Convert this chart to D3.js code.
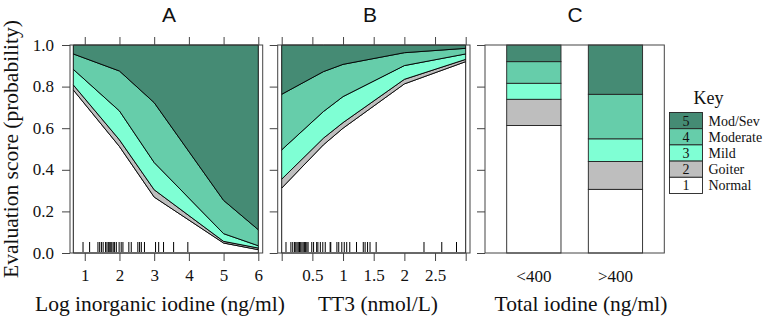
<!DOCTYPE html>
<html>
<head>
<meta charset="utf-8">
<script src="https://cdn.jsdelivr.net/npm/d3@7/dist/d3.min.js"></script>
<style>
  body { margin: 0; background: #fff; }
  svg { display: block; }
</style>
</head>
<body>
<svg id="chart" width="767" height="318"></svg>
<script>
// ---- data ----
const categories = ['Normal', 'Goiter', 'Mild', 'Moderate', 'Mod/Sev'];
const categoryColors = ['#ffffff', '#bebebe', '#7fffd4', '#66cdaa', '#458b74'];

// Panel A: cumulative P(score <= k) vs log inorganic iodine
const iodineX = [0.67, 2, 3, 5, 6];
const iodineCumNormal = [0.784, 0.512, 0.269, 0.048, 0.016];
const iodineCumGoiter = [0.808, 0.544, 0.304, 0.056, 0.024];
const iodineCumMild = [0.883, 0.683, 0.435, 0.093, 0.035];
const iodineCumModerate = [0.957, 0.875, 0.723, 0.253, 0.112];
const iodineRug = [0.95, 1.14, 1.38, 1.43, 1.48, 1.53, 1.60, 1.64, 1.68, 1.72, 1.75, 1.78,
  1.82, 1.86, 1.91, 1.99, 2.05, 2.10, 2.27, 2.34, 2.53, 2.58, 2.63, 2.72, 3.04, 3.13, 3.27,
  3.56, 3.97];
const iodineTicks = [1, 2, 3, 4, 5, 6];

// Panel B: cumulative P(score <= k) vs TT3
const tt3X = [0, 0.68, 1, 2, 3];
const tt3CumNormal = [0.312, 0.52, 0.60, 0.813, 0.92];
const tt3CumGoiter = [0.355, 0.552, 0.627, 0.835, 0.931];
const tt3CumMild = [0.496, 0.680, 0.752, 0.901, 0.957];
const tt3CumModerate = [0.763, 0.872, 0.907, 0.963, 0.984];
const tt3Rug = [0.07, 0.15, 0.18, 0.21, 0.23, 0.25, 0.27, 0.29, 0.31, 0.33, 0.35, 0.37, 0.39,
  0.41, 0.43, 0.49, 0.52, 0.57, 0.59, 0.63, 0.67, 0.71, 0.79, 0.80, 0.90, 0.93, 0.98, 1.02,
  1.06, 1.11, 1.22, 1.33, 1.36, 1.40, 1.44, 1.54, 2.32, 2.61, 2.85];
const tt3Ticks = [0, 0.5, 1, 1.5, 2, 2.5, 3];
const tt3TickLabels = ['', '0.5', '1', '1.5', '2', '2.5', ''];

// Panel C: category probabilities by total iodine group
const totalGroups = ['<400', '>400'];
const totalLow = [0.613, 0.126, 0.077, 0.104, 0.080];
const totalHigh = [0.306, 0.134, 0.109, 0.214, 0.237];

const yTicks = [0, 0.2, 0.4, 0.6, 0.8, 1.0];

// ---- layout ----
const Y_TOP = 45, Y_BOTTOM = 253;
const FRAME = '#444';
const SERIF = 'Liberation Serif';
const SANS = 'Liberation Sans';
const svg = d3.select('#chart');
const y = d3.scaleLinear().domain([0, 1]).range([Y_BOTTOM, Y_TOP]);

const panels = {
  A: { frame: [70, 262.7], plot: [73.3, 258.3], title: 169, xTitle: 160 },
  B: { frame: [277.7, 470], plot: [281.7, 465.7], title: 370, xTitle: 378 },
  C: { frame: [485, 664.3], title: 575, xTitle: 581 }
};

function serifText(sel, size) {
  return sel.attr('font-family', SERIF).attr('font-size', size).attr('fill', '#111');
}

function styleAxis(g) {
  g.attr('font-family', SERIF).attr('font-size', 17);
  g.select('.domain').remove();
  g.selectAll('.tick line').attr('stroke', FRAME);
  serifText(g.selectAll('.tick text'), 17);
}

function drawYAxis(p, withLabels) {
  const g = svg.append('g')
    .attr('transform', `translate(${p.frame[0]},0)`)
    .call(d3.axisLeft(y).tickValues(yTicks).tickSize(8).tickPadding(8)
      .tickFormat(withLabels ? d3.format('.1f') : () => ''));
  styleAxis(g);
  g.selectAll('.tick text').attr('dy', '0.3em');
}

function drawFrame(p) {
  svg.append('rect')
    .attr('x', p.frame[0])
    .attr('y', Y_TOP)
    .attr('width', p.frame[1] - p.frame[0])
    .attr('height', Y_BOTTOM - Y_TOP)
    .attr('fill', 'none')
    .attr('stroke', FRAME)
    .attr('stroke-width', 1);
}

function drawTitles(p, letter, xLabel) {
  svg.append('text')
    .attr('x', p.title).attr('y', 21.5)
    .attr('text-anchor', 'middle')
    .attr('font-family', SANS)
    .attr('font-size', 21)
    .attr('fill', '#111')
    .text(letter);

  serifText(svg.append('text'), 21.5)
    .attr('x', p.xTitle).attr('y', 311)
    .attr('text-anchor', 'middle')
    .text(xLabel);
}

function drawCurvePanel(p, xs, cums, rug, ticks, tickLabels) {
  const x = d3.scaleLinear().domain(d3.extent(xs)).range(p.plot);
  const bounds = [xs.map(() => 0), ...cums, xs.map(() => 1)];

  const area = d3.area()
    .x(d => x(d.x))
    .y0(d => y(d.lo))
    .y1(d => y(d.hi));

  const bands = categories.map((c, k) =>
    xs.map((v, i) => ({ x: v, lo: bounds[k][i], hi: bounds[k + 1][i] })));

  svg.append('g').selectAll('path')
    .data(bands)
    .join('path')
    .attr('d', d => area(d))
    .attr('fill', (d, k) => categoryColors[k])
    .attr('stroke', '#000')
    .attr('stroke-width', 0.9)
    .attr('stroke-linejoin', 'round');

  svg.append('g').selectAll('line')
    .data(rug)
    .join('line')
    .attr('x1', d => x(d)).attr('x2', d => x(d))
    .attr('y1', Y_BOTTOM - 11).attr('y2', Y_BOTTOM - 1)
    .attr('stroke', '#000')
    .attr('stroke-width', 1);

  drawFrame(p);

  const fmt = (d, i) => tickLabels ? tickLabels[i] : d3.format('d')(d);
  const bottom = svg.append('g')
    .attr('transform', `translate(0,${Y_BOTTOM})`)
    .call(d3.axisBottom(x).tickValues(ticks).tickSize(8).tickPadding(8).tickFormat(fmt));
  styleAxis(bottom);

  const top = svg.append('g')
    .attr('transform', `translate(0,${Y_TOP})`)
    .call(d3.axisTop(x).tickValues(ticks).tickSize(8).tickFormat(() => ''));
  styleAxis(top);
}

function drawBarPanel(p) {
  const x = d3.scaleBand()
    .domain(totalGroups)
    .range(p.frame)
    .paddingInner(0.335)
    .paddingOuter(0.266);

  const rows = [totalLow, totalHigh].map((probs, gi) => {
    let acc = 0;
    return probs.map((v, k) => {
      const seg = { group: totalGroups[gi], k, lo: acc, hi: acc + v };
      acc += v;
      return seg;
    });
  }).flat();

  svg.append('g').selectAll('rect')
    .data(rows)
    .join('rect')
    .attr('x', d => x(d.group))
    .attr('width', x.bandwidth())
    .attr('y', d => y(Math.min(d.hi, 1)))
    .attr('height', d => y(d.lo) - y(Math.min(d.hi, 1)))
    .attr('fill', d => categoryColors[d.k])
    .attr('stroke', '#222')
    .attr('stroke-width', 0.9);

  drawFrame(p);

  const bottom = svg.append('g')
    .attr('transform', `translate(0,${Y_BOTTOM})`)
    .call(d3.axisBottom(x).tickSize(0).tickPadding(17));
  styleAxis(bottom);
}

// ---- panels ----
drawCurvePanel(panels.A, iodineX,
  [iodineCumNormal, iodineCumGoiter, iodineCumMild, iodineCumModerate],
  iodineRug, iodineTicks, null);
drawYAxis(panels.A, true);
drawTitles(panels.A, 'A', 'Log inorganic iodine (ng/ml)');

drawCurvePanel(panels.B, tt3X,
  [tt3CumNormal, tt3CumGoiter, tt3CumMild, tt3CumModerate],
  tt3Rug, tt3Ticks, tt3TickLabels);
drawYAxis(panels.B, false);
drawTitles(panels.B, 'B', 'TT3 (nmol/L)');

drawBarPanel(panels.C);
drawYAxis(panels.C, false);
drawTitles(panels.C, 'C', 'Total iodine (ng/ml)');

// y axis title
serifText(svg.append('text'), 21.5)
  .attr('transform', `translate(18,${(Y_TOP + Y_BOTTOM) / 2}) rotate(-90)`)
  .attr('text-anchor', 'middle')
  .text('Evaluation score (probability)');

// ---- legend ----
const legend = svg.append('g').attr('transform', 'translate(669.5,112.5)');
const rowH = 16.2;
const legendRows = categories.map((c, k) => ({ label: c, k })).reverse();

serifText(legend.append('text'), 18)
  .attr('x', 39).attr('y', -9)
  .attr('text-anchor', 'middle')
  .text('Key');

const item = legend.selectAll('g.item')
  .data(legendRows)
  .join('g')
  .attr('class', 'item')
  .attr('transform', (d, i) => `translate(0,${i * rowH})`);

item.append('rect')
  .attr('width', 33).attr('height', rowH)
  .attr('fill', d => categoryColors[d.k])
  .attr('stroke', '#222')
  .attr('stroke-width', 0.9);

serifText(item.append('text'), 14)
  .attr('x', 16.5).attr('y', rowH / 2)
  .attr('dy', '0.35em')
  .attr('text-anchor', 'middle')
  .text(d => d.k + 1);

serifText(item.append('text'), 14)
  .attr('x', 39).attr('y', rowH / 2)
  .attr('dy', '0.35em')
  .text(d => d.label);
</script>
</body>
</html>
